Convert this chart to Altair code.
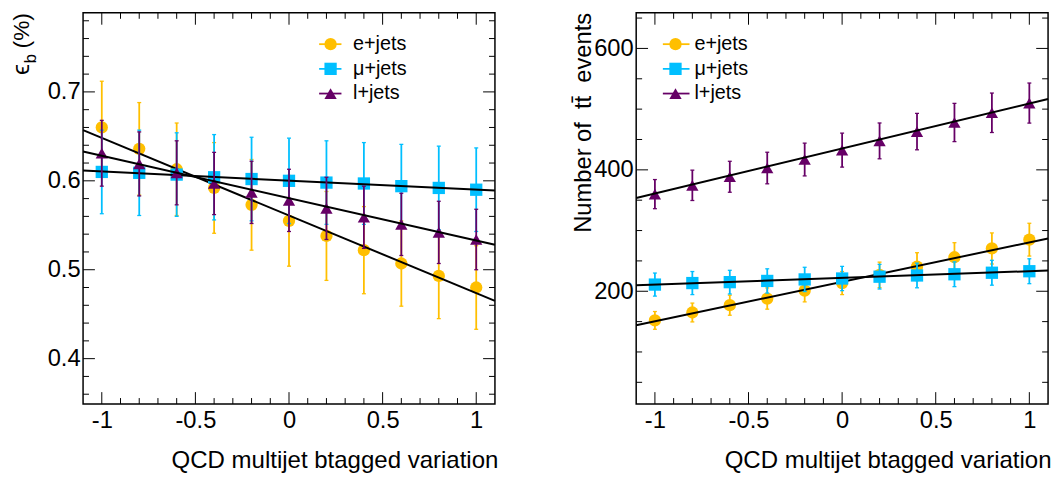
import altair as alt
import pandas as pd

FONT = "Liberation Sans"

# ---------------- data ----------------
x_vals = [-1.0, -0.8, -0.6, -0.4, -0.2, 0.0, 0.2, 0.4, 0.6, 0.8, 1.0]
x_major = [-1, -0.5, 0, 0.5, 1]
x_minor = [-0.9, -0.8, -0.7, -0.6, -0.4, -0.3, -0.2, -0.1,
           0.1, 0.2, 0.3, 0.4, 0.6, 0.7, 0.8, 0.9]
fit_x = [-1.1, 1.1]

series_names = ["e+jets", "μ+jets", "l+jets"]
series_colors = ["#FFBF00", "#00BFFF", "#660066"]
series_shapes = ["circle", "square", "triangle-up"]

# left panel: b-tagging efficiency
eff_e = [0.660, 0.636, 0.613, 0.592, 0.573, 0.555, 0.538, 0.522, 0.507, 0.493, 0.480]
eff_e_err = [0.052, 0.052, 0.052, 0.051, 0.051, 0.051, 0.050, 0.049, 0.048, 0.048, 0.047]
eff_mu = [0.610, 0.609, 0.607, 0.604, 0.602, 0.600, 0.598, 0.597, 0.594, 0.592, 0.590]
eff_mu_err = [0.047, 0.048, 0.047, 0.048, 0.047, 0.048, 0.047, 0.046, 0.047, 0.047, 0.047]
eff_l = [0.631, 0.619, 0.609, 0.597, 0.587, 0.578, 0.569, 0.559, 0.551, 0.542, 0.534]
eff_l_err = [0.037, 0.036, 0.036, 0.035, 0.035, 0.035, 0.035, 0.035, 0.035, 0.035, 0.034]
eff_fit_e = [0.657, 0.465]
eff_fit_mu = [0.6115, 0.589]
eff_fit_l = [0.633, 0.528]
eff_domain = [0.349, 0.7889]
eff_major = [0.4, 0.5, 0.6, 0.7]
eff_minor = [0.36, 0.38, 0.42, 0.44, 0.46, 0.48, 0.52, 0.54, 0.56, 0.58,
             0.62, 0.64, 0.66, 0.68, 0.72, 0.74, 0.76, 0.78]

# right panel: number of ttbar events
n_e = [152, 165, 177, 188, 201, 213.5, 227, 240.5, 256, 270.5, 285]
n_e_err = [14.6, 15.5, 16.5, 17.5, 18.5, 19, 21, 23, 24, 25.6, 27]
n_mu = [211, 213.5, 215, 217, 219.5, 221, 224, 226, 228, 230.5, 233]
n_mu_err = [19, 19, 19.5, 20, 20, 20, 20.3, 20.3, 20.4, 20.5, 20.5]
n_l = [360, 374.5, 388.6, 403, 417, 432.5, 447.7, 463, 478, 494, 510]
n_l_err = [24, 25, 25.5, 26, 27, 28, 29.5, 30, 31.5, 32.5, 33]
n_fit_e = [144.1, 287]
n_fit_mu = [209.8, 234.2]
n_fit_l = [353.7, 516.6]
n_domain = [14.3, 658.6]
n_major = [200, 400, 600]
n_minor = [50, 100, 150, 250, 300, 350, 450, 500, 550, 650]

x_title = "QCD multijet btagged variation"
n_title = "Number of\u00a0\u00a0tt\u0304\u00a0\u00a0events"
eff_title_parts = ["\u03f5", "b", "(%)"]

# ---------------- layout ----------------
W, H = 417, 396
MAJ, MIN = 12, 6
LABEL_FS = 24


def make_panel(vals, errs, fits, ydom, ymajor, yminor, leg, extra_layers):
    xs = alt.Scale(domain=[-1.1, 1.1], nice=False, zero=False)
    ys = alt.Scale(domain=ydom, nice=False, zero=False)
    xaxis = alt.Axis(values=x_major, labelExpr="'' + datum.value", ticks=False, tickSize=0,
                     domain=False, grid=False, labelFontSize=LABEL_FS, labelPadding=5,
                     labelColor="black", labelFont=FONT, title=x_title, titleFontSize=24.3,
                     titleFont=FONT, titleFontWeight="normal", titleColor="black",
                     titleAnchor="end", titleAlign="right", titleX=W + 3, titlePadding=16)
    yaxis = alt.Axis(values=ymajor, labelExpr="'' + datum.value", ticks=False, tickSize=0,
                     domain=False, grid=False, labelFontSize=LABEL_FS, labelPadding=3,
                     labelColor="black", labelFont=FONT, title=None)

    def X(f):
        return alt.X(f, type="quantitative", scale=xs, axis=xaxis)

    def Y(f):
        return alt.Y(f, type="quantitative", scale=ys, axis=yaxis)

    layers = []
    # frame ticks
    for vals_t, L in [(x_major, MAJ), (x_minor, MIN)]:
        d = alt.Chart(pd.DataFrame({"t": vals_t}))
        layers.append(d.mark_rule(color="black", strokeWidth=1).encode(
            x=X("t"), y=alt.value(H), y2=alt.value(H - L)))
        layers.append(d.mark_rule(color="black", strokeWidth=1).encode(
            x=X("t"), y=alt.value(0), y2=alt.value(L)))
    for vals_t, L in [(ymajor, MAJ), (yminor, MIN)]:
        d = alt.Chart(pd.DataFrame({"t": vals_t}))
        layers.append(d.mark_rule(color="black", strokeWidth=1).encode(
            y=Y("t"), x=alt.value(0), x2=alt.value(L)))
        layers.append(d.mark_rule(color="black", strokeWidth=1).encode(
            y=Y("t"), x=alt.value(W), x2=alt.value(W - L)))

    for i in range(3):
        c = series_colors[i]
        df = pd.DataFrame({
            "x": x_vals,
            "v": vals[i],
            "lo": [v - e for v, e in zip(vals[i], errs[i])],
            "hi": [v + e for v, e in zip(vals[i], errs[i])],
        })
        base = alt.Chart(df)
        layers.append(base.mark_rule(color=c, strokeWidth=1.8).encode(
            x=X("x"), y=Y("lo"), y2="hi"))
        for end in ["lo", "hi"]:
            layers.append(base.mark_rule(color=c, strokeWidth=1.3, xOffset=-2, x2Offset=2).encode(
                x=X("x"), x2="x", y=Y(end)))
        layers.append(base.mark_point(shape=series_shapes[i], filled=True, size=155,
                                      color=c, opacity=1).encode(x=X("x"), y=Y("v")))
        fdf = pd.DataFrame({"x": fit_x, "f": fits[i]})
        layers.append(alt.Chart(fdf).mark_line(color="black", strokeWidth=2).encode(
            x=X("x"), y=Y("f")))

    # legend
    lx0, lx1, mx, tx, rows = leg
    for i in range(3):
        c = series_colors[i]
        d = alt.Chart(pd.DataFrame({"name": [series_names[i]]}))
        layers.append(d.mark_rule(color=c, strokeWidth=1.8).encode(
            x=alt.value(lx0), x2=alt.value(lx1), y=alt.value(rows[i])))
        layers.append(d.mark_point(shape=series_shapes[i], filled=True, size=155,
                                   color=c, opacity=1).encode(
            x=alt.value(mx), y=alt.value(rows[i])))
        layers.append(d.mark_text(align="left", baseline="middle", fontSize=20, font=FONT,
                                  color="black").encode(
            text="name:N", x=alt.value(tx), y=alt.value(rows[i])))
    layers += extra_layers
    return alt.layer(*layers).properties(width=W, height=H)


def rot_text(txt, fs, xx, yy, align):
    return alt.Chart(pd.DataFrame({"s": [txt]})).mark_text(
        angle=270, align=align, baseline="alphabetic", fontSize=fs, font=FONT,
        color="black").encode(text="s:N", x=alt.value(xx), y=alt.value(yy))


# left y title built from text pieces (epsilon with subscript b)
eps_layers = [rot_text(eff_title_parts[0], 25, -55, 63, "left"),
              rot_text(eff_title_parts[1], 17, -48, 51, "left"),
              rot_text(eff_title_parts[2], 23, -55, 36, "left")]
n_layers = [rot_text(n_title, 24, -46, 0, "right")]

rows = [31.7, 56.7, 81.7]
left = make_panel([eff_e, eff_mu, eff_l], [eff_e_err, eff_mu_err, eff_l_err],
                  [eff_fit_e, eff_fit_mu, eff_fit_l], eff_domain, eff_major, eff_minor,
                  (239, 261.6, 250.6, 273.3, rows), eps_layers)

right = make_panel([n_e, n_mu, n_l], [n_e_err, n_mu_err, n_l_err],
                   [n_fit_e, n_fit_mu, n_fit_l], n_domain, n_major, n_minor,
                   (27, 54, 39.8, 59, rows), n_layers)

chart = alt.hconcat(left, right, spacing=72).properties(
    padding={"left": 0, "top": 0, "right": 0, "bottom": 0}
).configure(font=FONT).configure_view(stroke="black", strokeWidth=1.5)

chart.save("out.html", embed_options={"renderer": "svg", "actions": False})
